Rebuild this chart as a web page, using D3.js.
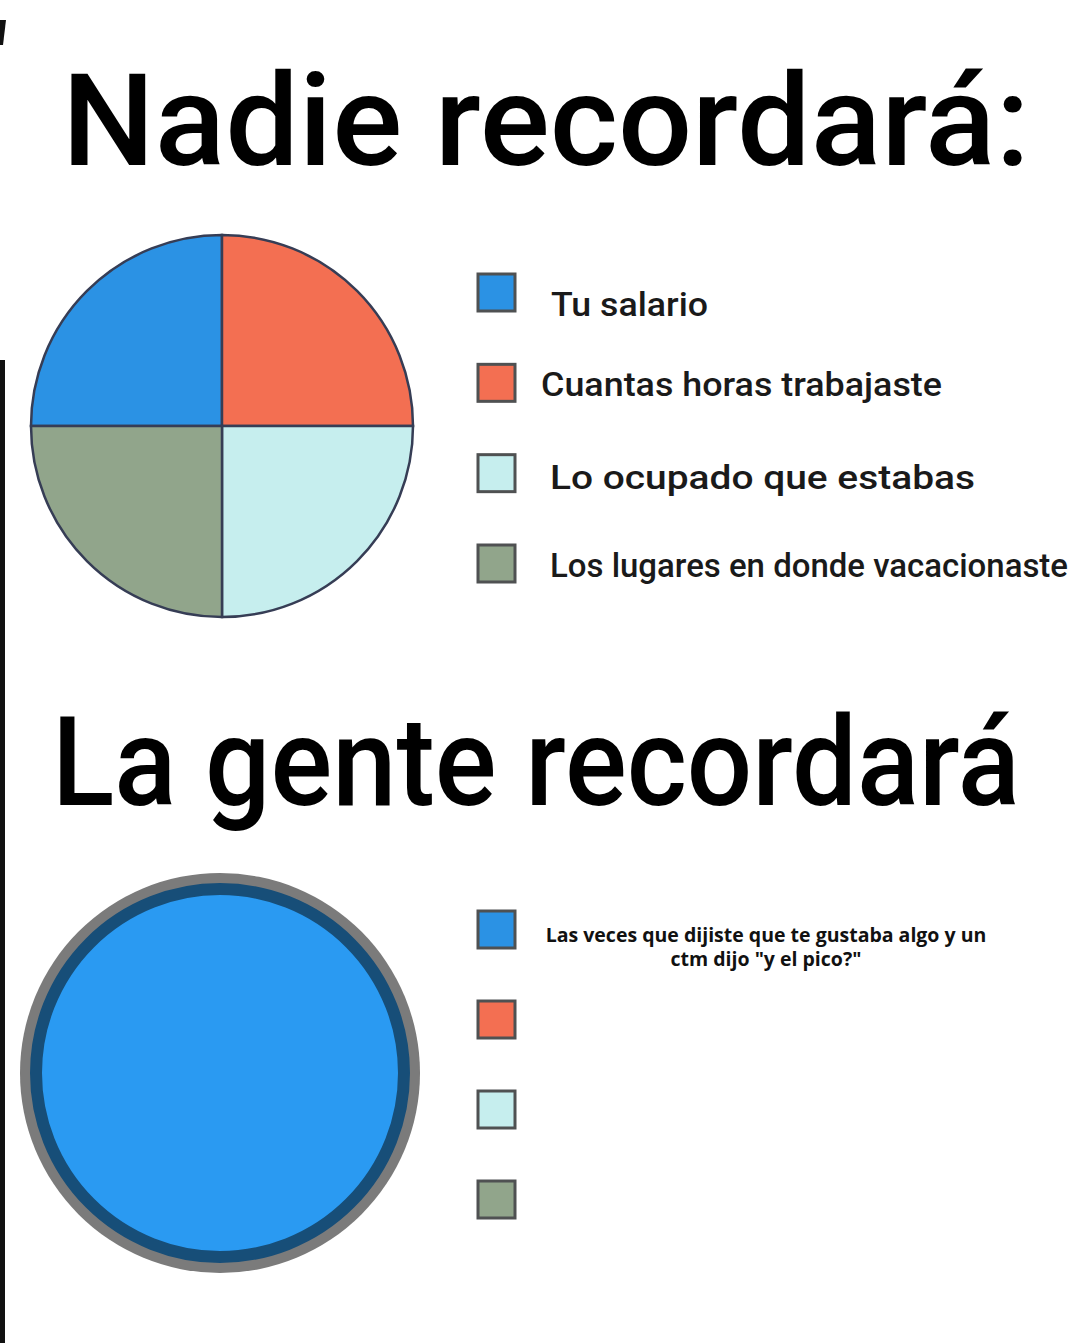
<!DOCTYPE html>
<html>
<head>
<meta charset="utf-8">
<script src="https://cdn.jsdelivr.net/npm/d3@7"></script>
<style>
  body { margin: 0; background: #fff; }
  svg { display: block; }
</style>
</head>
<body>
<svg width="1080" height="1343"></svg>
<script>
// chart data
const titles = ['Nadie recordará:', 'La gente recordará'];
const categories = ['Tu salario', 'Cuantas horas trabajaste', 'Lo ocupado que estabas', 'Los lugares en donde vacacionaste'];
const colors = ['#2b92e4', '#f36f52', '#c6eeee', '#91a58b'];
const valuesTop = [25, 25, 25, 25];
const valuesBottom = [100, 0, 0, 0];
const bottomLabel = ['Las veces que dijiste que te gustaba algo y un', 'ctm dijo "y el pico?"'];

const svg = d3.select('svg');

// little edge marks from the screenshot
svg.append('rect').attr('x', 0).attr('y', 360).attr('width', 5).attr('height', 983).attr('fill', '#111');
svg.append('path').attr('d', 'M0,20 L6,20 L3,45 L0,45 Z').attr('fill', '#111');

// titles
svg.append('text')
  .attr('x', 62).attr('y', 165)
  .attr('textLength', 968).attr('lengthAdjust', 'spacingAndGlyphs')
  .style('font-family', 'Roboto').style('font-weight', 500).style('font-size', '128px')
  .attr('fill', '#000')
  .text(titles[0]);

svg.append('text')
  .attr('x', 52).attr('y', 805)
  .attr('textLength', 968).attr('lengthAdjust', 'spacingAndGlyphs')
  .style('font-family', 'Roboto').style('font-weight', 500).style('font-size', '124px')
  .attr('fill', '#000')
  .text(titles[1]);

const pie = d3.pie().sort(null).startAngle(-Math.PI / 2).endAngle(Math.PI * 1.5);
const color = d3.scaleOrdinal().domain(categories).range(colors);

// top pie
const r1 = 191;
const arc1 = d3.arc().innerRadius(0).outerRadius(r1);
const g1 = svg.append('g').attr('transform', 'translate(222,426)');
g1.selectAll('path')
  .data(pie(valuesTop))
  .enter()
  .append('path')
  .attr('d', arc1)
  .attr('fill', (d, i) => color(categories[i]))
  .attr('stroke', '#363d55')
  .attr('stroke-width', 2.5);

// bottom pie
const r2 = 184;
const arc2 = d3.arc().innerRadius(0).outerRadius(r2);
const g2 = svg.append('g').attr('transform', 'translate(220,1073)');
g2.append('circle').attr('r', 200).attr('fill', '#7b7b7b');
g2.selectAll('path')
  .data(pie(valuesBottom).filter(d => d.value > 0))
  .enter()
  .append('path')
  .attr('d', arc2)
  .attr('fill', '#2a9af2')
  .attr('stroke', '#174e78')
  .attr('stroke-width', 12);

// legends
const y1 = d3.scalePoint().domain(categories).range([292, 563]);
const leg1 = svg.selectAll('.leg1')
  .data(categories)
  .enter()
  .append('g')
  .attr('class', 'leg1')
  .attr('transform', d => `translate(0,${y1(d)})`);

leg1.append('rect')
  .attr('x', 478).attr('y', -18).attr('width', 37).attr('height', 37)
  .attr('fill', d => color(d))
  .attr('stroke', '#4f5152').attr('stroke-width', 3);

const textX = [551, 541, 550, 550];
const textW = [157, 401, 425, 518];
const textDy = [24, 14, 16, 14];
leg1.append('text')
  .attr('x', (d, i) => textX[i])
  .attr('y', (d, i) => textDy[i])
  .attr('textLength', (d, i) => textW[i])
  .attr('lengthAdjust', 'spacingAndGlyphs')
  .style('font-family', 'Roboto').style('font-weight', 500).style('font-size', '33px')
  .attr('fill', '#1a1a1a')
  .text(d => d);

const y2 = d3.scalePoint().domain(categories).range([929, 1199]);
const leg2 = svg.selectAll('.leg2')
  .data(categories)
  .enter()
  .append('g')
  .attr('class', 'leg2')
  .attr('transform', d => `translate(0,${y2(d)})`);

leg2.append('rect')
  .attr('x', 478).attr('y', -18).attr('width', 37).attr('height', 37)
  .attr('fill', d => color(d))
  .attr('stroke', '#4f5152').attr('stroke-width', 3);

svg.append('text')
  .attr('text-anchor', 'middle')
  .style('font-family', 'Open Sans').style('font-weight', 700).style('font-size', '19.5px')
  .attr('fill', '#111')
  .selectAll('tspan')
  .data(bottomLabel)
  .enter()
  .append('tspan')
  .attr('x', 766)
  .attr('y', (d, i) => 942 + i * 24)
  .text(d => d);
</script>
</body>
</html>
